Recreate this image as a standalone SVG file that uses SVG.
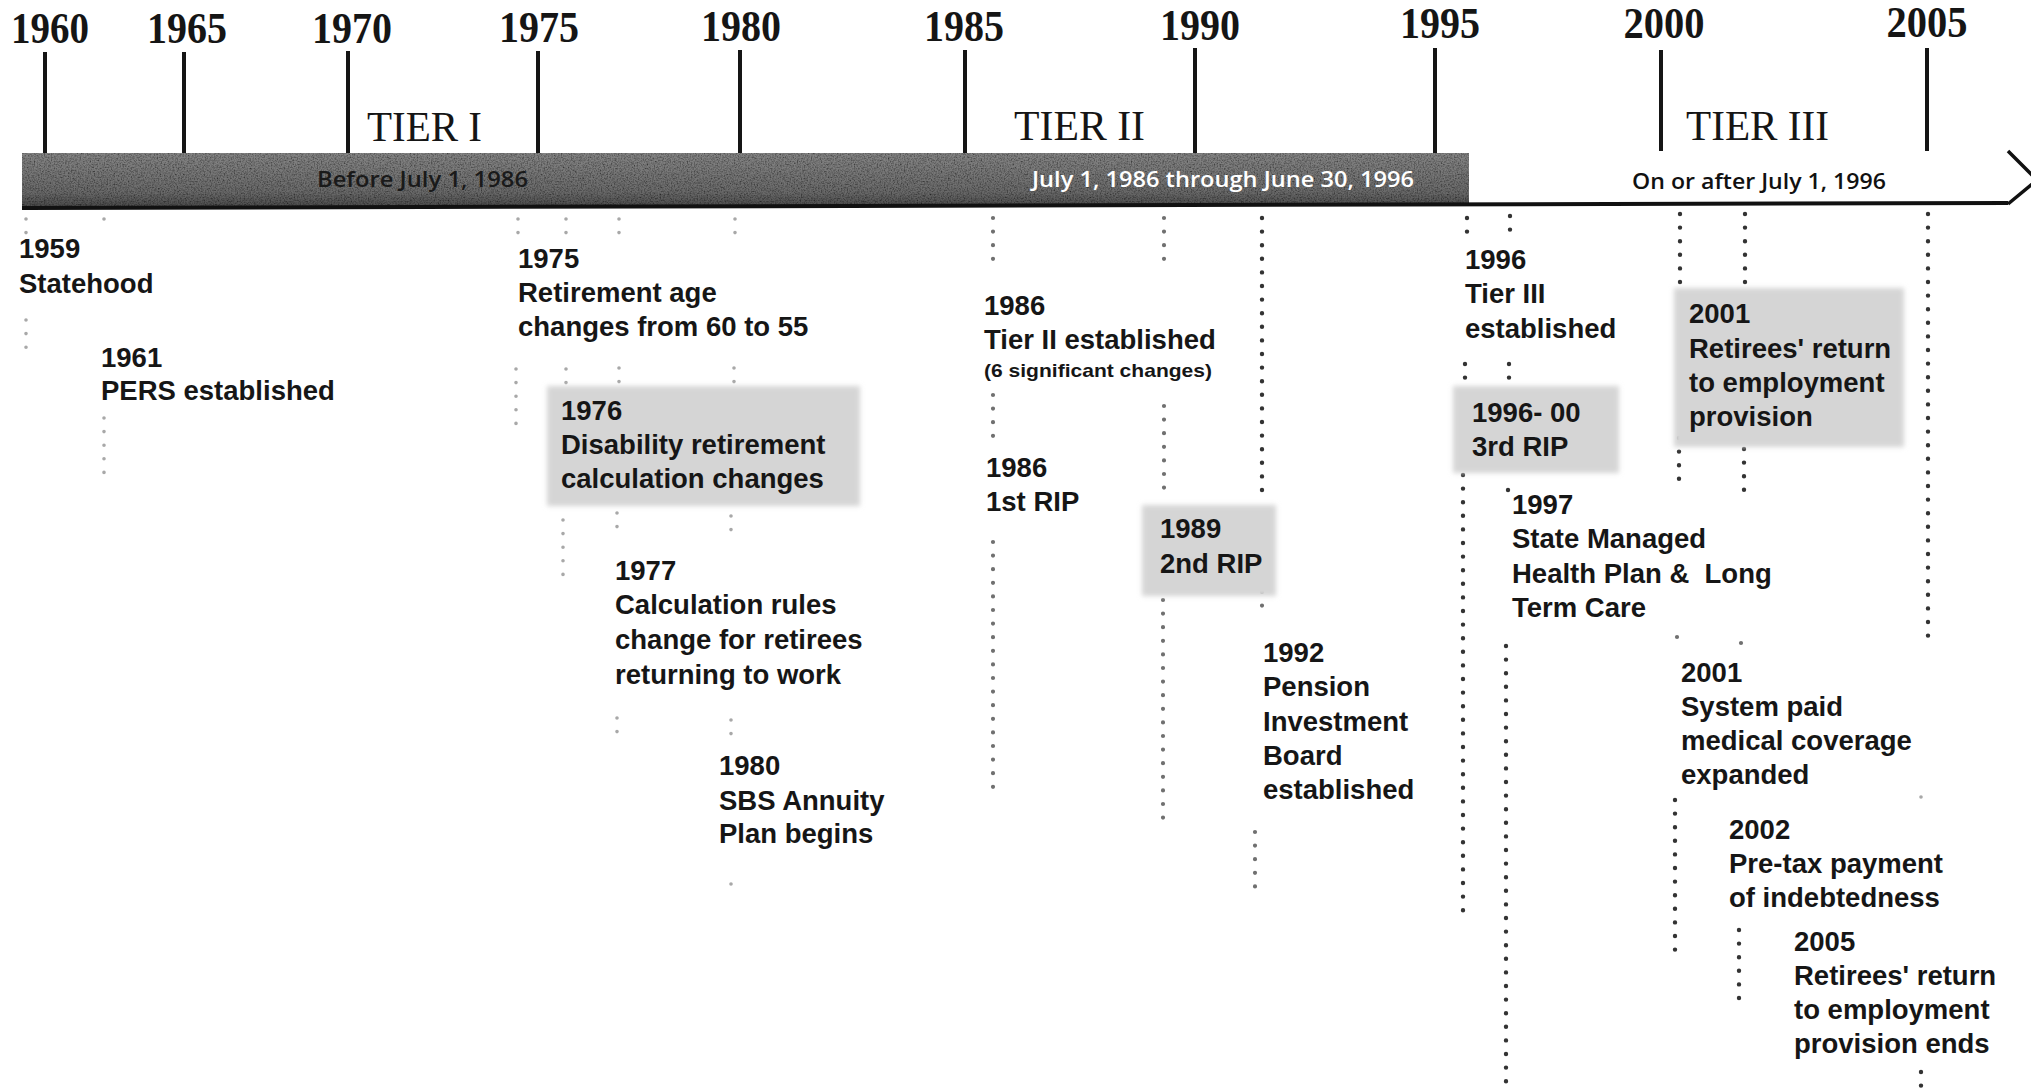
<svg xmlns="http://www.w3.org/2000/svg" width="2031" height="1089" viewBox="0 0 2031 1089">
<defs>
<style>
.yr{font-family:"Liberation Serif",serif;font-weight:bold;font-size:44px;fill:#151515;text-anchor:middle}
.tier{font-family:"Liberation Serif",serif;font-size:42px;fill:#151515}
.ev{font-family:"Liberation Sans",Arial,sans-serif;font-weight:bold;font-size:27.5px;fill:#161616}
.sm{font-size:19px}
.tick{stroke:#151515;stroke-width:4}
.bt{font-family:"Open Sans","Liberation Sans",sans-serif;font-weight:600;font-size:21px}
.box{fill:#d5d5d5;filter:url(#soft)}
.dk{stroke:#333333;stroke-width:4.4;stroke-linecap:round;stroke-dasharray:0 13.6;fill:none}
.md{stroke:#707070;stroke-width:4.2;stroke-linecap:round;stroke-dasharray:0 13.6;fill:none}
.ft{stroke:#a8a8a8;stroke-width:3.6;stroke-linecap:round;stroke-dasharray:0 13.6;fill:none}
</style>
<filter id="soft" x="-10%" y="-10%" width="120%" height="120%"><feGaussianBlur stdDeviation="2.5"/></filter>
<filter id="grain" x="0" y="0" width="100%" height="100%">
<feTurbulence type="fractalNoise" baseFrequency="0.7" numOctaves="2" seed="4" result="n"/>
<feColorMatrix in="n" type="matrix" values="0 0 0 0 0  0 0 0 0 0  0 0 0 0 0  0 0 0 1.6 -0.6" result="a"/>
<feComposite in="a" in2="SourceGraphic" operator="in" result="m"/>
<feMerge><feMergeNode in="SourceGraphic"/><feMergeNode in="m"/></feMerge>
</filter>
<linearGradient id="barg" x1="0" y1="0" x2="0" y2="1">
<stop offset="0" stop-color="#858585"/><stop offset="0.7" stop-color="#6a6a6a"/><stop offset="1" stop-color="#474747"/>
</linearGradient>
</defs>
<rect width="2031" height="1089" fill="#ffffff"/>

<g id="timeline-bar">
<polygon points="22,153 1469,153 1469,204 22,209" fill="url(#barg)" filter="url(#grain)"/>
<line x1="22" y1="208" x2="2008" y2="203" stroke="#111" stroke-width="4"/>
<polyline points="2008,151 2037,180 2008,204" fill="none" stroke="#111" stroke-width="3.5"/>
<text class="bt" x="317" y="187" fill="#1a1a1a" font-weight="bold" textLength="211" lengthAdjust="spacingAndGlyphs">Before July 1, 1986</text>
<text class="bt" x="1032" y="187" fill="#ffffff" textLength="382" lengthAdjust="spacingAndGlyphs">July 1, 1986 through June 30, 1996</text>
<text class="bt" x="1632" y="189" fill="#111" textLength="254" lengthAdjust="spacingAndGlyphs">On or after July 1, 1996</text>
</g>

<g id="years">
<line class="tick" x1="45" y1="52" x2="45" y2="153"/><text class="yr" x="50" y="43" textLength="78" lengthAdjust="spacingAndGlyphs">1960</text>
<line class="tick" x1="184" y1="52" x2="184" y2="153"/><text class="yr" x="187" y="43" textLength="80" lengthAdjust="spacingAndGlyphs">1965</text>
<line class="tick" x1="348" y1="51" x2="348" y2="153"/><text class="yr" x="352" y="43" textLength="80" lengthAdjust="spacingAndGlyphs">1970</text>
<line class="tick" x1="538" y1="51" x2="538" y2="153"/><text class="yr" x="539" y="42" textLength="80" lengthAdjust="spacingAndGlyphs">1975</text>
<line class="tick" x1="740" y1="50" x2="740" y2="153"/><text class="yr" x="741" y="41" textLength="80" lengthAdjust="spacingAndGlyphs">1980</text>
<line class="tick" x1="965" y1="50" x2="965" y2="153"/><text class="yr" x="964" y="41" textLength="80" lengthAdjust="spacingAndGlyphs">1985</text>
<line class="tick" x1="1195" y1="48" x2="1195" y2="153"/><text class="yr" x="1200" y="40" textLength="80" lengthAdjust="spacingAndGlyphs">1990</text>
<line class="tick" x1="1435" y1="48" x2="1435" y2="153"/><text class="yr" x="1440" y="38" textLength="80" lengthAdjust="spacingAndGlyphs">1995</text>
<line class="tick" x1="1661" y1="50" x2="1661" y2="151"/><text class="yr" x="1664" y="38" textLength="81" lengthAdjust="spacingAndGlyphs">2000</text>
<line class="tick" x1="1927" y1="48" x2="1927" y2="151"/><text class="yr" x="1927" y="37" textLength="81" lengthAdjust="spacingAndGlyphs">2005</text>
</g>

<g id="tiers">
<text class="tier" x="367" y="141" textLength="115" lengthAdjust="spacingAndGlyphs">TIER I</text>
<text class="tier" x="1014" y="140" textLength="131" lengthAdjust="spacingAndGlyphs">TIER II</text>
<text class="tier" x="1686" y="140" textLength="143" lengthAdjust="spacingAndGlyphs">TIER III</text>
</g>

<g id="connectors">
<line class="ft" x1="26" y1="219" x2="26" y2="233"/>
<line class="ft" x1="104" y1="219" x2="104" y2="226"/>
<line class="ft" x1="518" y1="219" x2="518" y2="233"/>
<line class="ft" x1="566" y1="219" x2="566" y2="233"/>
<line class="ft" x1="619" y1="219" x2="619" y2="233"/>
<line class="ft" x1="735" y1="219" x2="735" y2="233"/>
<line class="md" x1="993" y1="218" x2="993" y2="262"/>
<line class="md" x1="1164" y1="218" x2="1164" y2="262"/>
<line class="dk" x1="1262" y1="218" x2="1262" y2="500"/>
<line class="dk" x1="1467" y1="218" x2="1467" y2="232"/>
<line class="dk" x1="1510" y1="216" x2="1510" y2="230"/>
<line class="dk" x1="1680" y1="214" x2="1680" y2="282"/>
<line class="dk" x1="1745" y1="214" x2="1745" y2="282"/>
<line class="dk" x1="1928" y1="214" x2="1928" y2="646"/>

<line class="ft" x1="26" y1="320" x2="26" y2="348"/>
<line class="ft" x1="104" y1="418" x2="104" y2="473"/>
<line class="ft" x1="516" y1="369" x2="516" y2="427"/>
<line class="ft" x1="566" y1="369" x2="566" y2="383"/>
<line class="ft" x1="563" y1="520" x2="563" y2="578"/>
<line class="ft" x1="619" y1="368" x2="619" y2="382"/>
<line class="ft" x1="617" y1="513" x2="617" y2="540"/>
<line class="ft" x1="617" y1="718" x2="617" y2="745"/>
<line class="ft" x1="734" y1="368" x2="734" y2="382"/>
<line class="ft" x1="731" y1="516" x2="731" y2="530"/>
<line class="ft" x1="731" y1="720" x2="731" y2="734"/>
<line class="ft" x1="731" y1="884" x2="731" y2="884"/>
<line class="md" x1="993" y1="395" x2="993" y2="436"/>
<line class="md" x1="993" y1="542" x2="993" y2="787"/>
<line class="md" x1="1164" y1="406" x2="1164" y2="501"/>
<line class="md" x1="1163" y1="600" x2="1163" y2="818"/>
<line class="md" x1="1262" y1="592" x2="1262" y2="606"/>
<line class="md" x1="1255" y1="832" x2="1255" y2="887"/>
<line class="dk" x1="1465" y1="364" x2="1465" y2="378"/>
<line class="dk" x1="1463" y1="475" x2="1463" y2="919"/>
<line class="dk" x1="1509" y1="364" x2="1509" y2="378"/>
<line class="dk" x1="1508" y1="490" x2="1508" y2="490"/>
<line class="dk" x1="1506" y1="646" x2="1506" y2="1090"/>
<line class="dk" x1="1679" y1="438" x2="1679" y2="479"/>
<line class="md" x1="1677" y1="637" x2="1677" y2="637"/>
<line class="dk" x1="1675" y1="800" x2="1675" y2="950"/>
<line class="dk" x1="1744" y1="449" x2="1744" y2="490"/>
<line class="md" x1="1741" y1="643" x2="1741" y2="643"/>
<line class="dk" x1="1739" y1="930" x2="1739" y2="1004"/>
<line class="ft" x1="1921" y1="797" x2="1921" y2="797"/>
<line class="dk" x1="1921" y1="1072" x2="1921" y2="1090"/>
</g>

<g id="ev-1959">
<text class="ev" x="19" y="258">1959</text>
<text class="ev" x="19" y="293">Statehood</text>
</g>
<g id="ev-1961">
<text class="ev" x="101" y="367">1961</text>
<text class="ev" x="101" y="400">PERS established</text>
</g>
<g id="ev-1975">
<text class="ev" x="518" y="268">1975</text>
<text class="ev" x="518" y="302">Retirement age</text>
<text class="ev" x="518" y="336">changes from 60 to 55</text>
</g>
<g id="ev-1976">
<rect class="box" x="547" y="386" width="313" height="120"/>
<text class="ev" x="561" y="420">1976</text>
<text class="ev" x="561" y="454">Disability retirement</text>
<text class="ev" x="561" y="488">calculation changes</text>
</g>
<g id="ev-1977">
<text class="ev" x="615" y="580">1977</text>
<text class="ev" x="615" y="614">Calculation rules</text>
<text class="ev" x="615" y="649">change for retirees</text>
<text class="ev" x="615" y="684">returning to work</text>
</g>
<g id="ev-1980">
<text class="ev" x="719" y="775">1980</text>
<text class="ev" x="719" y="810">SBS Annuity</text>
<text class="ev" x="719" y="843">Plan begins</text>
</g>
<g id="ev-1986-tier2">
<text class="ev" x="984" y="315">1986</text>
<text class="ev" x="984" y="349">Tier II established</text>
<text class="ev sm" x="984" y="377" textLength="228" lengthAdjust="spacingAndGlyphs">(6 significant changes)</text>
</g>
<g id="ev-1986-rip">
<text class="ev" x="986" y="477">1986</text>
<text class="ev" x="986" y="511">1st RIP</text>
</g>
<g id="ev-1989">
<rect class="box" x="1142" y="505" width="134" height="91"/>
<text class="ev" x="1160" y="538">1989</text>
<text class="ev" x="1160" y="573">2nd RIP</text>
</g>
<g id="ev-1992">
<text class="ev" x="1263" y="662">1992</text>
<text class="ev" x="1263" y="696">Pension</text>
<text class="ev" x="1263" y="731">Investment</text>
<text class="ev" x="1263" y="765">Board</text>
<text class="ev" x="1263" y="799">established</text>
</g>
<g id="ev-1996-tier3">
<text class="ev" x="1465" y="269">1996</text>
<text class="ev" x="1465" y="303">Tier III</text>
<text class="ev" x="1465" y="338">established</text>
</g>
<g id="ev-1996-rip">
<rect class="box" x="1453" y="386" width="166" height="87"/>
<text class="ev" x="1472" y="422">1996- 00</text>
<text class="ev" x="1472" y="456">3rd RIP</text>
</g>
<g id="ev-1997">
<text class="ev" x="1512" y="514">1997</text>
<text class="ev" x="1512" y="548">State Managed</text>
<text class="ev" x="1512" y="583" xml:space="preserve">Health Plan &amp;  Long</text>
<text class="ev" x="1512" y="617">Term Care</text>
</g>
<g id="ev-2001-return">
<rect class="box" x="1674" y="288" width="230" height="159"/>
<text class="ev" x="1689" y="323">2001</text>
<text class="ev" x="1689" y="358">Retirees' return</text>
<text class="ev" x="1689" y="392">to employment</text>
<text class="ev" x="1689" y="426">provision</text>
</g>
<g id="ev-2001-medical">
<text class="ev" x="1681" y="682">2001</text>
<text class="ev" x="1681" y="716">System paid</text>
<text class="ev" x="1681" y="750">medical coverage</text>
<text class="ev" x="1681" y="784">expanded</text>
</g>
<g id="ev-2002">
<text class="ev" x="1729" y="839">2002</text>
<text class="ev" x="1729" y="873">Pre-tax payment</text>
<text class="ev" x="1729" y="907">of indebtedness</text>
</g>
<g id="ev-2005">
<text class="ev" x="1794" y="951">2005</text>
<text class="ev" x="1794" y="985">Retirees' return</text>
<text class="ev" x="1794" y="1019">to employment</text>
<text class="ev" x="1794" y="1053">provision ends</text>
</g>
</svg>
